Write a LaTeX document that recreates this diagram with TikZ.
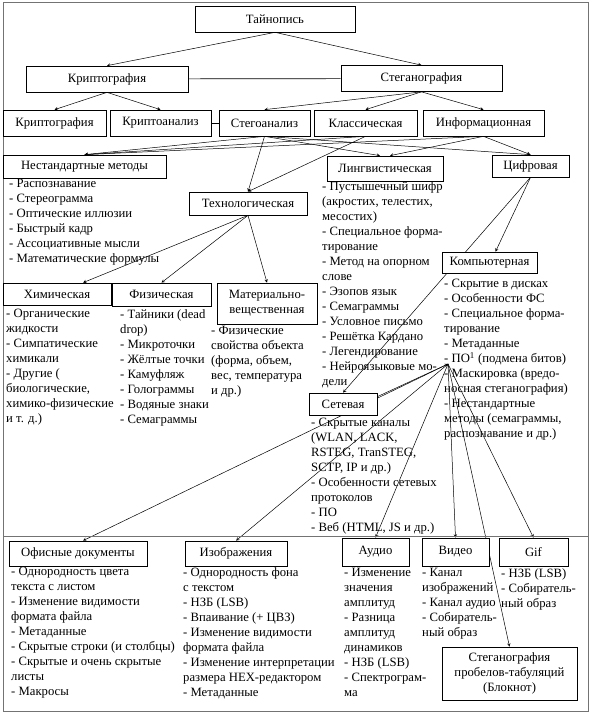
\documentclass[tikz,border=0pt]{standalone}
\usepackage{fontspec}
\setmainfont{Liberation Serif}
\usetikzlibrary{shapes,arrows,positioning,backgrounds}

\begin{document}
\begin{tikzpicture}[
    x=1pt, y=-1pt,
    font=\fontsize{12.7}{15}\selectfont,
    box/.style={rectangle, draw, fill=white, line width=0.7pt, minimum height=26pt, inner sep=1pt, align=center},
    list/.style={anchor=north west, align=left, inner sep=0pt},
    arrow/.style={->, >=stealth, line width=0.5pt},
    link/.style={line width=0.7pt}
]
    \useasboundingbox (0,0) rectangle (591,714);
    \draw[line width=1pt, black!55] (3,3) rectangle (588,711);
    \draw[line width=1pt, black!55] (3,536) -- (588,536);

    \node[box, minimum width=160pt] (tain) at (275,19) {Тайнопись};
    \node[box, minimum width=162pt] (crypto) at (107,79) {Криптография};
    \node[box, minimum width=161pt] (steg) at (421.5,78.5) {Стеганография};

    \node[box, minimum width=103pt] (cryptotwo) at (54.5,123) {Криптография};
    \node[box, minimum width=101pt] (cryptoan) at (160.5,123) {Криптоанализ};
    \node[box, minimum width=91pt] (stegan) at (264.5,123) {Стегоанализ};
    \node[box, minimum width=103pt] (classic) at (365.5,123) {Классическая};
    \node[box, minimum width=121pt] (inform) at (483.5,123) {Информационная};

    \node[box, minimum width=163pt, minimum height=23pt] (nonstd) at (84.5,166.5) {Нестандартные методы};
    \node[box, minimum width=116pt, minimum height=25pt] (ling) at (385,168.5) {Лингвистическая};
    \node[box, minimum width=77pt, minimum height=22pt] (digit) at (530.5,166) {Цифровая};
    \node[box, minimum width=118pt, minimum height=23pt] (techno) at (248,203.5) {Технологическая};

    \node[box, minimum width=108pt, minimum height=22pt] (chem) at (57,294) {Химическая};
    \node[box, minimum width=99pt, minimum height=23pt] (phys) at (161.5,294.5) {Физическая};
    \node[box, minimum width=100pt, minimum height=41pt] (mater) at (267,303.5) {Материально-\\вещественная};
    \node[box, minimum width=95pt, minimum height=21pt] (comp) at (489.5,262.5) {Компьютерная};
    \node[box, minimum width=68pt, minimum height=22pt] (net) at (343,404) {Сетевая};

    \node[box, minimum width=138pt, minimum height=25pt] (office) at (78,553.5) {Офисные документы};
    \node[box, minimum width=102pt, minimum height=25pt] (images) at (236,553.5) {Изображения};
    \node[box, minimum width=67pt, minimum height=28pt] (audio) at (375.5,552) {Аудио};
    \node[box, minimum width=67pt, minimum height=28pt] (video) at (455.5,552) {Видео};
    \node[box, minimum width=69pt, minimum height=28pt] (gif) at (533.5,552) {Gif};
    \node[box, minimum width=135pt, minimum height=53pt] (tabs) at (509.5,673.5) {Стеганография\\пробелов-табуляций\\(Блокнот)};

    \node[list] (nonstdlist) at (9,179) {- Распознавание\\- Стереограмма\\- Оптические иллюзии\\- Быстрый кадр\\- Ассоциативные мысли\\- Математические формулы};
    \node[list] (linglist) at (322,181) {- Пустышечный шифр\\(акростих, телестих,\\месостих)\\- Специальное форма-\\тирование\\- Метод на опорном\\слове\\- Эзопов язык\\- Семаграммы\\- Условное письмо\\- Решётка Кардано\\- Легендирование\\- Нейроязыковые мо-\\дели};
    \node[list] (chemlist) at (6,309) {- Органические\\жидкости\\- Симпатические\\химикали\\- Другие (\\биологические,\\химико-физические\\и т. д.)};
    \node[list] (physlist) at (120,309) {- Тайники (dead\\drop)\\- Микроточки\\- Жёлтые точки\\- Камуфляж\\- Голограммы\\- Водяные знаки\\- Семаграммы};
    \node[list] (materlist) at (211,326) {- Физические\\свойства объекта\\(форма, объем,\\вес, температура\\и др.)};
    \node[list] (complist) at (444,279) {- Скрытие в дисках\\- Особенности ФС\\- Специальное форма-\\тирование\\- Метаданные\\- ПО\textsuperscript{1} (подмена битов)\\- Маскировка (вредо-\\носная стеганография)\\- Нестандартные\\методы (семаграммы,\\распознавание и др.)};
    \node[list] (netlist) at (311,418) {- Скрытые каналы\\(WLAN, LACK,\\RSTEG, TranSTEG,\\SCTP, IP и др.)\\- Особенности сетевых\\протоколов\\- ПО\\- Веб (HTML, JS и др.)};

    \node[list] (officelist) at (11,567) {- Однородность цвета\\текста с листом\\- Изменение видимости\\формата файла\\- Метаданные\\- Скрытые строки (и столбцы)\\- Скрытые и очень скрытые\\листы\\- Макросы};
    \node[list] (imageslist) at (183,567) {- Однородность фона\\с текстом\\- НЗБ (LSB)\\- Впаивание (+ ЦВЗ)\\- Изменение видимости\\формата файла\\- Изменение интерпретации\\размера HEX-редактором\\- Метаданные};
    \node[list] (audiolist) at (344,568) {- Изменение\\значения\\амплитуд\\- Разница\\амплитуд\\динамиков\\- НЗБ (LSB)\\- Спектрограм-\\ма};
    \node[list] (videolist) at (422,568) {- Канал\\изображений\\- Канал аудио\\- Собиратель-\\ный образ};
    \node[list] (giflist) at (501,568) {- НЗБ (LSB)\\- Собиратель-\\ный образ};

    \coordinate (po) at (448,364);

    \begin{pgfonlayer}{background}
    \draw[arrow] (tain.south) -- (crypto.north);
    \draw[arrow] (tain.south) -- (steg.north);
    \draw[link] (crypto) -- (steg);
    \draw[link] (cryptoan) -- (stegan);
    \draw[arrow] (crypto.south) -- (cryptotwo.north);
    \draw[arrow] (crypto.south) -- (cryptoan.north);
    \draw[arrow] (steg.south) -- (stegan.north);
    \draw[arrow] (steg.south) -- (classic.north);
    \draw[arrow] (steg.south) -- (inform.north);

    \draw[arrow] (stegan.south) -- (nonstd.north);
    \draw[arrow] (classic.south) -- (nonstd.north);
    \draw[arrow] (inform.south) -- (nonstd.north);
    \draw[arrow] (stegan.south) -- (techno.north);
    \draw[arrow] (classic.south) -- (techno.north);
    \draw[arrow] (stegan.south) -- ([xshift=-5pt]ling.north);
    \draw[arrow] (inform.south) -- ([xshift=5pt]ling.north);
    \draw[arrow] (stegan.south) -- (digit.north);
    \draw[arrow] (inform.south) -- (digit.north);

    \draw[arrow] (techno.south) -- ([xshift=26pt]chem.north);
    \draw[arrow] (techno.south) -- (phys.north);
    \draw[arrow] (techno.south) -- (mater.north);
    \draw[arrow] (digit.south) -- ([xshift=6pt]comp.north);
    \draw[arrow] (digit.south) -- (net.north);

    \draw[arrow] ([yshift=-4pt]net.north east) -- (po);
    \draw[arrow] (po) -- ([xshift=5pt]office.north);
    \draw[arrow] (po) -- (images.north);
    \draw[arrow] (po) -- (audio.north);
    \draw[arrow] (po) -- (video.north);
    \draw[arrow] (po) -- (gif.north);
    \draw[arrow] (po) -- (tabs.north);
    \end{pgfonlayer}
\end{tikzpicture}
\end{document}
